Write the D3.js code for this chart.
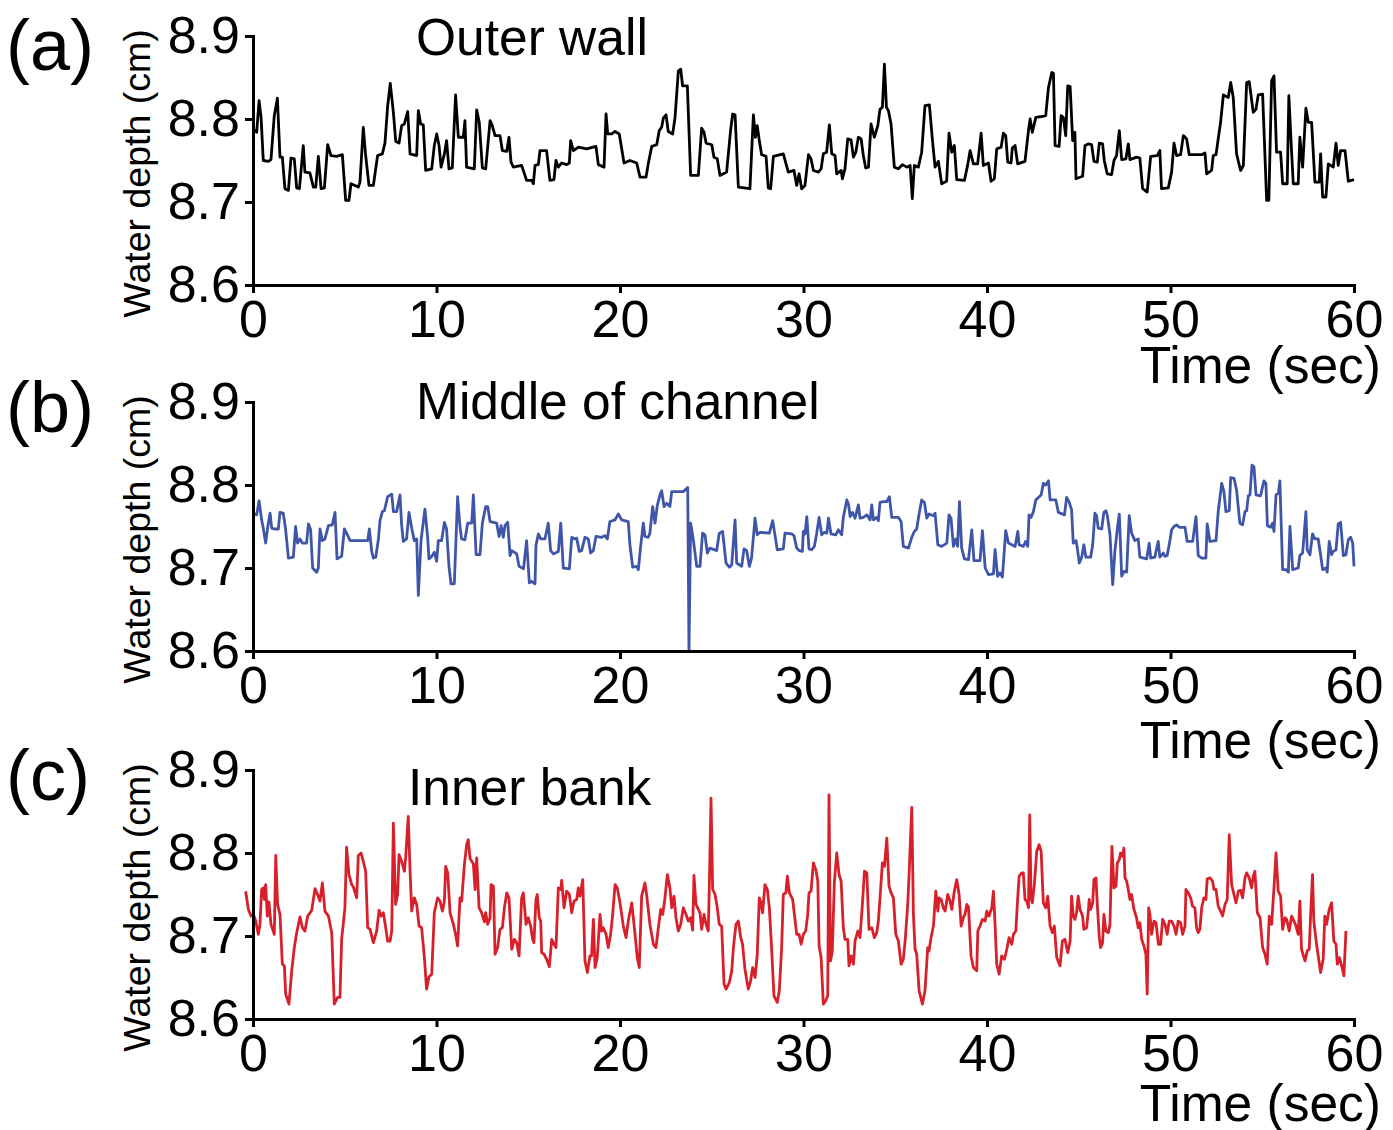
<!DOCTYPE html>
<html><head><meta charset="utf-8">
<script src="https://cdn.jsdelivr.net/npm/d3@7"></script>
<style>
html,body{margin:0;padding:0;background:#fff;}
svg{display:block;font-family:"Liberation Sans",Arial,Helvetica,sans-serif;}
</style></head>
<body><svg id="chart" width="1393" height="1130"></svg>
<script>
const panelLetters = ["(a)", "(b)", "(c)"];
const panelTitles = ["Outer wall", "Middle of channel", "Inner bank"];
const xTicks = [0, 10, 20, 30, 40, 50, 60];
const yTicks = [8.6, 8.7, 8.8, 8.9];
const xTitle = "Time (sec)";
const yTitle = "Water depth (cm)";

// [time (s), water depth (cm)]
const outerWall = [
[0,8.788],[0.2,8.784],[0.33,8.822],[0.44,8.802],[0.56,8.75],[0.84,8.749],[0.98,8.751],[1.16,8.804],[1.33,8.825],[1.47,8.754],[1.6,8.754],[1.74,8.716],[1.93,8.714],[2.07,8.753],[2.25,8.752],[2.38,8.717],[2.53,8.716],[2.62,8.738],[2.74,8.768],[2.83,8.736],[3.1,8.735],[3.29,8.718],[3.42,8.718],[3.56,8.755],[3.71,8.716],[3.89,8.717],[4.07,8.769],[4.25,8.756],[4.56,8.755],[4.87,8.757],[5.05,8.702],[5.23,8.702],[5.34,8.722],[5.74,8.718],[5.83,8.724],[6.01,8.79],[6.14,8.756],[6.32,8.72],[6.56,8.72],[6.79,8.756],[7.05,8.758],[7.19,8.771],[7.34,8.816],[7.48,8.843],[7.65,8.808],[7.78,8.773],[7.96,8.771],[8.1,8.792],[8.25,8.794],[8.43,8.809],[8.56,8.758],[8.92,8.756],[9.01,8.81],[9.14,8.794],[9.28,8.793],[9.41,8.738],[9.74,8.74],[9.88,8.768],[10.01,8.782],[10.14,8.768],[10.25,8.742],[10.43,8.758],[10.55,8.774],[10.68,8.74],[10.86,8.741],[11.04,8.829],[11.19,8.778],[11.46,8.778],[11.55,8.798],[11.64,8.742],[12.06,8.74],[12.19,8.811],[12.33,8.796],[12.5,8.741],[12.68,8.74],[12.92,8.798],[13.04,8.792],[13.19,8.78],[13.46,8.78],[13.59,8.762],[13.83,8.761],[13.95,8.778],[14.06,8.748],[14.19,8.742],[14.64,8.744],
[14.91,8.726],[15.19,8.726],[15.28,8.722],[15.37,8.744],[15.55,8.745],[15.64,8.762],[16.0,8.762],[16.18,8.726],[16.4,8.727],[16.51,8.75],[16.64,8.742],[16.82,8.747],[17.09,8.745],[17.24,8.747],[17.31,8.774],[17.46,8.762],[17.73,8.766],[18.18,8.764],[18.69,8.767],[18.82,8.745],[19.13,8.742],[19.24,8.806],[19.33,8.782],[19.55,8.782],[19.73,8.785],[19.96,8.782],[20.22,8.747],[20.54,8.75],[20.91,8.747],[21.09,8.73],[21.42,8.73],[21.54,8.746],[21.73,8.767],[22.0,8.769],[22.14,8.786],[22.27,8.79],[22.36,8.801],[22.51,8.805],[22.63,8.785],[22.87,8.782],[23.0,8.802],[23.18,8.858],[23.31,8.86],[23.41,8.84],[23.67,8.84],[23.85,8.732],[24.27,8.732],[24.45,8.789],[24.58,8.784],[24.69,8.771],[25.0,8.769],[25.12,8.754],[25.3,8.752],[25.45,8.732],[25.81,8.736],[26.03,8.787],[26.14,8.806],[26.27,8.805],[26.45,8.718],[27.08,8.716],[27.27,8.805],[27.38,8.778],[27.48,8.792],[27.59,8.774],[27.72,8.757],[27.96,8.755],[28.08,8.717],[28.21,8.716],[28.36,8.755],[28.9,8.758],[29.17,8.736],[29.48,8.738],
[29.63,8.72],[29.76,8.734],[29.9,8.716],[30.08,8.72],[30.27,8.757],[30.41,8.752],[30.54,8.738],[30.81,8.736],[30.96,8.74],[31.08,8.758],[31.26,8.76],[31.41,8.793],[31.54,8.758],[31.72,8.756],[31.81,8.734],[32.05,8.738],[32.12,8.728],[32.26,8.74],[32.41,8.776],[32.59,8.775],[32.72,8.754],[32.85,8.76],[32.99,8.778],[33.14,8.776],[33.26,8.756],[33.39,8.741],[33.54,8.742],[33.68,8.794],[33.86,8.778],[34.05,8.792],[34.17,8.812],[34.3,8.814],[34.41,8.866],[34.52,8.814],[34.63,8.81],[34.77,8.794],[34.95,8.742],[35.17,8.74],[35.39,8.745],[35.63,8.742],[35.81,8.744],[35.93,8.704],[36.04,8.744],[36.26,8.742],[36.44,8.76],[36.62,8.816],[36.86,8.817],[37.02,8.776],[37.17,8.742],[37.35,8.749],[37.53,8.722],[37.8,8.725],[37.93,8.783],[38.08,8.76],[38.22,8.768],[38.35,8.727],[38.77,8.726],[38.95,8.745],[39.08,8.762],[39.26,8.746],[39.49,8.746],[39.68,8.783],[39.8,8.744],[40.08,8.747],[40.22,8.725],[40.4,8.728],[40.53,8.764],[40.77,8.766],[40.89,8.783],[41.02,8.78],[41.13,8.748],[41.31,8.747],[41.38,8.765],[41.53,8.768],[41.67,8.746],[42.07,8.749],[42.26,8.786],[42.35,8.8],[42.47,8.784],[42.66,8.802],[42.98,8.803],[43.2,8.804],[43.35,8.838],[43.53,8.856],[43.62,8.855],[43.71,8.768],[43.93,8.767],[44.04,8.804],[44.16,8.802],[44.29,8.78],[44.4,8.84],[44.53,8.839],
[44.67,8.774],[44.79,8.784],[44.85,8.728],[45.21,8.731],[45.34,8.768],[45.52,8.77],[45.7,8.769],[45.83,8.749],[46.01,8.748],[46.12,8.771],[46.3,8.77],[46.39,8.75],[46.55,8.734],[46.79,8.733],[46.92,8.75],[47.06,8.756],[47.21,8.786],[47.34,8.751],[47.57,8.752],[47.7,8.77],[47.79,8.751],[48.15,8.754],[48.33,8.753],[48.48,8.716],[48.73,8.712],[48.92,8.755],[49.28,8.756],[49.42,8.762],[49.51,8.716],[49.88,8.717],[50.06,8.736],[50.19,8.771],[50.33,8.756],[50.55,8.757],[50.7,8.78],[50.88,8.776],[51.02,8.757],[51.7,8.757],[51.88,8.759],[51.97,8.734],[52.24,8.738],[52.33,8.756],[52.48,8.757],[52.6,8.776],[52.73,8.796],[52.88,8.829],[53.15,8.826],[53.28,8.844],[53.42,8.826],[53.6,8.758],[53.82,8.738],[53.97,8.744],[54.15,8.844],[54.29,8.845],[54.51,8.808],[54.66,8.812],[54.78,8.829],[55.02,8.83],[55.24,8.702],[55.36,8.702],[55.51,8.846],[55.64,8.852],[55.78,8.76],[56.0,8.76],[56.11,8.722],[56.36,8.722],[56.45,8.828],[56.6,8.76],[56.69,8.722],[56.96,8.722],[57.05,8.778],[57.2,8.742],[57.38,8.813],[57.51,8.796],[57.69,8.796],[57.87,8.724],[58.11,8.724],[58.18,8.758],[58.29,8.706],[58.47,8.706],[58.6,8.746],[58.87,8.742],[59.02,8.771],[59.14,8.744],[59.27,8.762],[59.51,8.762],[59.69,8.725],[60.0,8.727]
];

const middleChannel = [
[0.02,8.766],[0.2,8.764],[0.33,8.781],[0.47,8.758],[0.56,8.748],[0.69,8.73],[0.8,8.749],[0.93,8.766],[1.02,8.748],[1.16,8.747],[1.38,8.747],[1.47,8.767],[1.65,8.766],[1.78,8.746],[1.93,8.712],[2.2,8.713],[2.32,8.75],[2.43,8.73],[2.56,8.735],[2.69,8.73],[2.92,8.73],[3.02,8.753],[3.14,8.746],[3.25,8.7],[3.47,8.695],[3.56,8.7],[3.65,8.747],[3.78,8.733],[3.92,8.735],[4.11,8.751],[4.32,8.752],[4.47,8.767],[4.58,8.711],[4.83,8.714],[4.98,8.747],[5.1,8.742],[5.29,8.733],[5.74,8.733],[6.25,8.733],[6.34,8.747],[6.47,8.72],[6.56,8.712],[6.69,8.713],[6.83,8.734],[6.92,8.757],[7.05,8.768],[7.16,8.769],[7.34,8.786],[7.56,8.789],[7.65,8.768],[7.83,8.768],[8.01,8.788],[8.1,8.752],[8.19,8.732],[8.37,8.735],[8.5,8.767],[8.65,8.748],[8.79,8.733],[8.92,8.735],[9.01,8.667],[9.16,8.734],[9.37,8.771],[9.52,8.736],[9.59,8.711],[9.74,8.714],[9.88,8.719],[10.01,8.708],[10.1,8.733],[10.28,8.733],[10.43,8.755],[10.55,8.747],[10.68,8.702],[10.79,8.681],[10.97,8.681],[11.15,8.786],[11.28,8.75],[11.37,8.735],[11.55,8.734],[11.7,8.754],[11.92,8.754],[12.01,8.788],[12.16,8.716],[12.37,8.716],[12.5,8.754],[12.68,8.774],[12.79,8.774],[12.92,8.756],[13.28,8.754],[13.41,8.738],[13.52,8.751],[13.64,8.737],[13.73,8.751],[13.88,8.755],[14.01,8.715],[14.1,8.721],[14.37,8.717],[14.5,8.702],[14.74,8.699],
[14.91,8.733],[15.06,8.682],[15.19,8.684],[15.37,8.681],[15.42,8.727],[15.55,8.741],[15.68,8.735],[15.91,8.735],[16.09,8.754],[16.22,8.721],[16.37,8.717],[16.64,8.72],[16.77,8.754],[16.91,8.7],[17.24,8.699],[17.37,8.737],[17.55,8.735],[17.64,8.736],[17.78,8.72],[17.91,8.721],[18.09,8.737],[18.27,8.735],[18.4,8.718],[18.55,8.721],[18.69,8.738],[19.0,8.737],[19.18,8.739],[19.31,8.735],[19.45,8.756],[19.73,8.758],[19.91,8.765],[20.09,8.758],[20.45,8.756],[20.54,8.728],[20.69,8.701],[20.91,8.702],[21.0,8.698],[21.13,8.727],[21.27,8.754],[21.36,8.738],[21.54,8.737],[21.63,8.742],[21.78,8.774],[21.91,8.754],[22.03,8.775],[22.18,8.788],[22.27,8.793],[22.4,8.774],[22.54,8.778],[22.72,8.774],[22.82,8.792],[23.18,8.792],[23.45,8.792],[23.69,8.797],[23.76,8.6],[23.85,8.754],[23.99,8.735],[24.18,8.702],[24.36,8.702],[24.5,8.742],[24.63,8.74],[24.76,8.718],[24.9,8.724],[25.27,8.721],[25.41,8.742],[25.59,8.744],[25.78,8.706],[25.96,8.701],[26.09,8.704],[26.27,8.758],[26.36,8.706],[26.63,8.702],[26.76,8.723],[26.9,8.721],[27.05,8.702],[27.17,8.712],[27.36,8.76],[27.48,8.74],[27.63,8.743],[28.14,8.742],[28.32,8.757],[28.45,8.739],[28.57,8.722],[28.9,8.723],[28.99,8.742],[29.35,8.741],[29.48,8.739],
[29.63,8.724],[29.76,8.721],[29.94,8.72],[29.99,8.744],[30.08,8.741],[30.18,8.762],[30.3,8.723],[30.45,8.722],[30.59,8.726],[30.72,8.742],[30.85,8.761],[30.99,8.74],[31.14,8.743],[31.27,8.742],[31.36,8.76],[31.5,8.741],[31.76,8.74],[31.9,8.746],[32.08,8.74],[32.17,8.761],[32.36,8.782],[32.45,8.777],[32.54,8.762],[32.67,8.767],[32.81,8.76],[32.9,8.768],[32.99,8.776],[33.08,8.76],[33.26,8.761],[33.45,8.764],[33.63,8.758],[33.72,8.776],[33.81,8.758],[33.99,8.761],[34.08,8.757],[34.17,8.779],[34.35,8.78],[34.54,8.78],[34.68,8.786],[34.81,8.761],[35.17,8.761],[35.32,8.756],[35.44,8.726],[35.72,8.724],[35.9,8.737],[36.04,8.744],[36.17,8.747],[36.26,8.76],[36.44,8.782],[36.59,8.779],[36.72,8.76],[36.84,8.765],[37.08,8.763],[37.17,8.766],[37.32,8.728],[37.53,8.726],[37.81,8.73],[37.93,8.764],[38.04,8.76],[38.17,8.726],[38.3,8.735],[38.4,8.726],[38.5,8.78],[38.62,8.724],[38.77,8.711],[38.99,8.71],[39.17,8.746],[39.29,8.709],[39.62,8.709],[39.75,8.745],[39.9,8.7],[40.08,8.692],[40.35,8.693],[40.44,8.722],[40.58,8.69],[40.71,8.694],[40.84,8.689],[41.02,8.745],[41.17,8.73],[41.53,8.726],[41.68,8.744],[41.75,8.728],[41.98,8.726],[42.11,8.732],[42.22,8.726],[42.29,8.764],[42.4,8.761],[42.53,8.768],[42.66,8.782],[42.8,8.785],[42.95,8.788],[43.07,8.802],[43.2,8.8],[43.35,8.805],[43.44,8.782],[43.75,8.782],[43.89,8.767],[44.22,8.764],[44.34,8.785],[44.47,8.78],
[44.61,8.77],[44.7,8.73],[44.85,8.733],[44.92,8.724],[45.03,8.706],[45.16,8.713],[45.28,8.728],[45.39,8.713],[45.65,8.713],[45.76,8.728],[45.88,8.766],[45.97,8.763],[46.06,8.748],[46.25,8.747],[46.37,8.767],[46.48,8.769],[46.55,8.764],[46.7,8.741],[46.85,8.68],[46.97,8.72],[47.1,8.747],[47.21,8.765],[47.34,8.69],[47.46,8.696],[47.61,8.695],[47.75,8.763],[47.88,8.742],[48.06,8.733],[48.24,8.735],[48.33,8.713],[48.7,8.711],[48.84,8.73],[48.92,8.712],[49.15,8.713],[49.21,8.72],[49.33,8.732],[49.42,8.713],[49.61,8.718],[49.7,8.714],[49.82,8.715],[49.97,8.733],[50.06,8.746],[50.19,8.75],[50.33,8.752],[50.48,8.749],[50.79,8.749],[50.91,8.732],[51.21,8.732],[51.39,8.762],[51.51,8.715],[51.7,8.712],[51.93,8.712],[52.0,8.753],[52.15,8.732],[52.48,8.733],[52.6,8.768],[52.79,8.802],[52.91,8.792],[53.02,8.768],[53.2,8.769],[53.28,8.809],[53.46,8.808],[53.6,8.794],[53.78,8.754],[53.93,8.752],[54.06,8.768],[54.15,8.769],[54.24,8.787],[54.33,8.788],[54.44,8.824],[54.55,8.822],[54.66,8.788],[54.91,8.787],[55.09,8.805],[55.2,8.802],[55.28,8.751],[55.46,8.749],[55.56,8.754],[55.64,8.744],[55.75,8.788],[55.88,8.79],[55.96,8.805],[56.11,8.698],[56.29,8.698],[56.42,8.695],[56.51,8.75],[56.66,8.698],[56.96,8.7],[57.05,8.715],[57.2,8.718],[57.38,8.768],[57.45,8.722],[57.6,8.716],[57.74,8.741],[57.87,8.735],[58.05,8.735],[58.18,8.716],[58.29,8.698],[58.47,8.7],[58.54,8.695],[58.65,8.732],[58.78,8.716],[58.87,8.72],[59.02,8.722],[59.14,8.753],[59.27,8.755],[59.42,8.715],[59.56,8.716],[59.69,8.734],[59.82,8.737],[59.93,8.73],[60.0,8.702]
];

const innerBank = [
[-0.4,8.754],[-0.25,8.732],[-0.11,8.724],[0.02,8.726],[0.15,8.718],[0.29,8.702],[0.38,8.714],[0.47,8.756],[0.56,8.758],[0.62,8.744],[0.69,8.762],[0.78,8.724],[0.87,8.741],[0.98,8.714],[1.16,8.702],[1.24,8.797],[1.34,8.738],[1.47,8.726],[1.6,8.666],[1.71,8.664],[1.78,8.63],[1.96,8.618],[2.11,8.658],[2.25,8.686],[2.38,8.704],[2.56,8.723],[2.69,8.71],[2.83,8.706],[2.98,8.724],[3.11,8.728],[3.2,8.731],[3.38,8.757],[3.52,8.75],[3.65,8.742],[3.78,8.764],[3.92,8.73],[4.11,8.724],[4.29,8.704],[4.43,8.618],[4.61,8.626],[4.74,8.626],[4.83,8.696],[5.01,8.734],[5.1,8.807],[5.23,8.774],[5.38,8.762],[5.47,8.759],[5.65,8.746],[5.74,8.797],[5.89,8.8],[6.01,8.79],[6.14,8.778],[6.25,8.71],[6.38,8.708],[6.56,8.692],[6.74,8.706],[6.87,8.731],[6.98,8.724],[7.1,8.728],[7.19,8.716],[7.34,8.694],[7.47,8.694],[7.56,8.706],[7.65,8.836],[7.77,8.738],[7.88,8.75],[7.96,8.798],[8.1,8.79],[8.25,8.778],[8.32,8.795],[8.46,8.844],[8.56,8.778],[8.65,8.73],[8.79,8.746],[8.92,8.738],[9.05,8.712],[9.19,8.71],[9.34,8.674],[9.46,8.636],[9.59,8.651],[9.74,8.654],[9.88,8.728],[10.06,8.746],[10.19,8.742],[10.32,8.73],[10.43,8.742],[10.5,8.784],[10.61,8.776],[10.74,8.728],[10.92,8.714],[11.04,8.702],[11.15,8.688],[11.28,8.746],[11.37,8.742],[11.52,8.786],[11.65,8.811],[11.73,8.816],[11.83,8.793],[12.01,8.787],[12.1,8.756],[12.19,8.794],[12.32,8.734],[12.46,8.728],[12.61,8.717],[12.68,8.728],[12.79,8.714],[12.92,8.722],[12.97,8.762],[13.1,8.76],[13.19,8.678],[13.33,8.686],[13.46,8.708],[13.59,8.71],[13.7,8.734],[13.83,8.752],[13.95,8.746],[14.1,8.684],[14.24,8.696],[14.37,8.692],[14.5,8.676],
[14.64,8.746],[14.73,8.752],[14.88,8.714],[15.0,8.722],[15.13,8.712],[15.24,8.696],[15.31,8.692],[15.42,8.744],[15.49,8.75],[15.6,8.722],[15.68,8.718],[15.73,8.68],[15.86,8.678],[16.0,8.672],[16.15,8.663],[16.28,8.696],[16.4,8.69],[16.51,8.686],[16.64,8.758],[16.77,8.756],[16.82,8.767],[16.95,8.734],[17.09,8.754],[17.24,8.75],[17.37,8.728],[17.49,8.742],[17.64,8.744],[17.73,8.758],[17.82,8.748],[17.97,8.768],[18.09,8.67],[18.22,8.656],[18.36,8.676],[18.45,8.676],[18.55,8.72],[18.64,8.662],[18.76,8.674],[18.91,8.726],[19.0,8.706],[19.09,8.71],[19.24,8.702],[19.36,8.686],[19.49,8.702],[19.6,8.726],[19.73,8.762],[19.85,8.758],[20.0,8.74],[20.18,8.712],[20.33,8.698],[20.45,8.718],[20.64,8.74],[20.82,8.702],[20.94,8.674],[21.05,8.662],[21.18,8.748],[21.36,8.764],[21.45,8.75],[21.63,8.714],[21.82,8.69],[21.96,8.686],[22.09,8.71],[22.22,8.732],[22.33,8.726],[22.45,8.746],[22.58,8.774],[22.72,8.758],[22.82,8.734],[22.94,8.748],[23.05,8.722],[23.18,8.706],[23.31,8.714],[23.45,8.734],[23.6,8.726],[23.72,8.718],[23.85,8.722],[23.96,8.707],[24.03,8.773],[24.14,8.738],[24.27,8.732],[24.36,8.728],[24.45,8.708],[24.58,8.726],[24.69,8.714],[24.81,8.706],[24.87,8.762],[24.96,8.866],[25.05,8.756],[25.18,8.75],[25.3,8.734],[25.41,8.714],[25.54,8.712],[25.67,8.642],[25.78,8.636],[25.96,8.644],[26.09,8.658],[26.18,8.686],[26.32,8.714],[26.45,8.718],[26.58,8.698],[26.68,8.69],[26.81,8.66],[26.99,8.636],[27.12,8.646],[27.23,8.662],[27.36,8.65],[27.48,8.678],[27.59,8.746],[27.66,8.742],[27.77,8.728],[27.9,8.762],[28.03,8.756],[28.14,8.734],[28.26,8.686],[28.39,8.628],[28.57,8.62],[28.68,8.634],[28.81,8.686],[28.9,8.75],[29.04,8.752],[29.12,8.772],[29.23,8.752],[29.41,8.744],
[29.63,8.702],[29.76,8.702],[29.87,8.69],[29.99,8.702],[30.12,8.706],[30.23,8.726],[30.3,8.752],[30.41,8.754],[30.54,8.788],[30.67,8.78],[30.78,8.766],[30.85,8.688],[30.96,8.674],[31.08,8.618],[31.21,8.622],[31.32,8.628],[31.39,8.87],[31.47,8.67],[31.57,8.682],[31.68,8.764],[31.81,8.8],[31.94,8.774],[32.05,8.766],[32.17,8.71],[32.26,8.696],[32.41,8.696],[32.48,8.664],[32.59,8.676],[32.72,8.666],[32.81,8.694],[32.96,8.706],[33.08,8.698],[33.21,8.738],[33.32,8.778],[33.45,8.776],[33.57,8.708],[33.72,8.71],[33.86,8.698],[33.99,8.704],[34.08,8.718],[34.17,8.746],[34.3,8.788],[34.41,8.784],[34.54,8.818],[34.66,8.76],[34.77,8.752],[34.9,8.746],[35.03,8.702],[35.17,8.694],[35.32,8.666],[35.44,8.672],[35.54,8.694],[35.68,8.738],[35.75,8.772],[35.9,8.855],[35.99,8.726],[36.08,8.684],[36.17,8.678],[36.3,8.634],[36.48,8.618],[36.62,8.634],[36.77,8.686],[36.84,8.682],[36.95,8.698],[37.08,8.712],[37.21,8.754],[37.32,8.73],[37.39,8.746],[37.5,8.744],[37.62,8.734],[37.72,8.73],[37.86,8.75],[37.99,8.742],[38.08,8.732],[38.22,8.754],[38.35,8.768],[38.48,8.75],[38.59,8.712],[38.71,8.722],[38.8,8.726],[38.9,8.738],[38.99,8.735],[39.13,8.676],[39.26,8.662],[39.44,8.658],[39.5,8.706],[39.62,8.712],[39.75,8.72],[39.9,8.718],[39.99,8.73],[40.11,8.724],[40.26,8.734],[40.35,8.754],[40.44,8.714],[40.53,8.666],[40.66,8.654],[40.8,8.676],[40.95,8.672],[41.08,8.684],[41.2,8.698],[41.35,8.69],[41.44,8.702],[41.57,8.706],[41.68,8.748],[41.75,8.772],[41.89,8.776],[41.98,8.776],[42.07,8.744],[42.17,8.742],[42.26,8.734],[42.33,8.846],[42.4,8.746],[42.47,8.74],[42.58,8.762],[42.71,8.802],[42.84,8.81],[42.95,8.802],[43.07,8.74],[43.2,8.734],[43.31,8.748],[43.44,8.712],[43.56,8.704],[43.67,8.712],[43.8,8.674],[43.98,8.664],[44.11,8.694],[44.25,8.696],[44.4,8.68],[44.53,8.694],
[44.61,8.748],[44.7,8.724],[44.79,8.72],[44.88,8.728],[44.97,8.748],[45.07,8.732],[45.21,8.724],[45.28,8.708],[45.43,8.71],[45.52,8.73],[45.57,8.744],[45.65,8.732],[45.76,8.74],[45.83,8.768],[45.94,8.77],[46.01,8.738],[46.12,8.698],[46.19,8.686],[46.3,8.692],[46.37,8.726],[46.48,8.706],[46.61,8.704],[46.7,8.714],[46.81,8.808],[46.92,8.758],[47.03,8.76],[47.1,8.788],[47.21,8.792],[47.28,8.8],[47.39,8.796],[47.46,8.806],[47.52,8.77],[47.61,8.766],[47.7,8.756],[47.79,8.744],[47.88,8.75],[48.01,8.732],[48.15,8.722],[48.24,8.71],[48.33,8.716],[48.43,8.696],[48.55,8.688],[48.66,8.678],[48.73,8.63],[48.81,8.734],[48.88,8.726],[48.97,8.702],[49.1,8.718],[49.21,8.716],[49.34,8.69],[49.46,8.69],[49.57,8.72],[49.7,8.714],[49.82,8.702],[49.93,8.718],[50.06,8.718],[50.19,8.712],[50.3,8.702],[50.42,8.718],[50.55,8.716],[50.66,8.702],[50.79,8.712],[50.84,8.756],[50.97,8.752],[51.1,8.746],[51.2,8.736],[51.33,8.734],[51.42,8.71],[51.51,8.704],[51.6,8.708],[51.7,8.734],[51.82,8.746],[51.93,8.744],[52.0,8.769],[52.15,8.77],[52.29,8.766],[52.37,8.756],[52.48,8.756],[52.6,8.736],[52.73,8.73],[52.84,8.724],[52.97,8.738],[53.09,8.744],[53.2,8.822],[53.33,8.762],[53.46,8.75],[53.57,8.74],[53.7,8.754],[53.82,8.755],[53.93,8.746],[54.06,8.77],[54.15,8.776],[54.29,8.77],[54.42,8.758],[54.51,8.772],[54.6,8.778],[54.73,8.728],[54.88,8.722],[55.02,8.686],[55.15,8.678],[55.27,8.666],[55.38,8.724],[55.51,8.714],[55.64,8.758],[55.75,8.8],[55.87,8.754],[56.0,8.748],[56.11,8.708],[56.24,8.722],[56.33,8.72],[56.47,8.706],[56.6,8.724],[56.73,8.718],[56.84,8.712],[56.96,8.702],[57.05,8.742],[57.14,8.684],[57.33,8.67],[57.45,8.682],[57.56,8.684],[57.63,8.722],[57.74,8.774],[57.81,8.718],[57.96,8.69],[58.18,8.656],[58.32,8.672],[58.41,8.724],[58.5,8.714],[58.65,8.732],[58.78,8.74],[58.9,8.694],[59.02,8.69],[59.09,8.666],[59.2,8.674],[59.33,8.664],[59.45,8.652],[59.56,8.706]
];

const seriesList = [outerWall, middleChannel, innerBank];
const lineColors = ["#000000", "#3f56a8", "#d7202a"];

// ---------- layout ----------
const svg = d3.select("#chart");
const xLeft = 253, xRight = 1354;
const panels = [
  {top: 36,  bottom: 285,  letterY: 70,  titleX: 416, titleY: 55,  xTitleY: 383},
  {top: 402, bottom: 651,  letterY: 432, titleX: 416, titleY: 419, xTitleY: 758},
  {top: 770, bottom: 1019, letterY: 800, titleX: 408, titleY: 805, xTitleY: 1121}
];
const x = d3.scaleLinear().domain([0, 60]).range([xLeft, xRight]);
const fontTick = 52, fontTitle = 51.5, fontLetter = 72, fontYTitle = 37.5;

panels.forEach((p, i) => {
  const y = d3.scaleLinear().domain([8.6, 8.9]).range([p.bottom, p.top]);
  const g = svg.append("g");

  // data line
  const line = d3.line().x(d => x(d[0])).y(d => y(d[1]));
  g.append("path").datum(seriesList[i])
    .attr("fill", "none")
    .attr("stroke", lineColors[i])
    .attr("stroke-width", 2.8)
    .attr("stroke-linejoin", "round")
    .attr("d", line);

  // y axis
  const ya = g.append("g").attr("transform", `translate(${xLeft},0)`)
    .call(d3.axisLeft(y).tickValues(yTicks).tickFormat(d3.format(".1f"))
      .tickSize(8).tickSizeOuter(0).tickPadding(5));
  // x axis
  const xa = g.append("g").attr("transform", `translate(0,${p.bottom})`)
    .call(d3.axisBottom(x).tickValues(xTicks).tickFormat(d3.format("d"))
      .tickSize(8).tickSizeOuter(0).tickPadding(7));
  [ya, xa].forEach(a => {
    a.select(".domain").attr("stroke", "#000").attr("stroke-width", 3).attr("stroke-linecap", "square");
    a.selectAll(".tick line").attr("stroke", "#000").attr("stroke-width", 3);
    a.selectAll(".tick text").attr("fill", "#000").style("font-size", fontTick + "px")
      .style("font-family", '"Liberation Sans", Arial, sans-serif');
  });

  // y title
  g.append("text")
    .attr("transform", `translate(137,${(p.top + p.bottom) / 2 + 13}) rotate(-90)`)
    .attr("text-anchor", "middle").attr("dy", "0.35em")
    .style("font-size", fontYTitle + "px").text(yTitle);

  // x title
  g.append("text").attr("x", 1381).attr("y", p.xTitleY)
    .attr("text-anchor", "end").style("font-size", fontTitle + "px").text(xTitle);

  // panel letter
  g.append("text").attr("x", 6).attr("y", p.letterY)
    .style("font-size", fontLetter + "px").text(panelLetters[i]);

  // panel title
  g.append("text").attr("x", p.titleX).attr("y", p.titleY)
    .style("font-size", fontTitle + "px").text(panelTitles[i]);
});
</script>
</body></html>
